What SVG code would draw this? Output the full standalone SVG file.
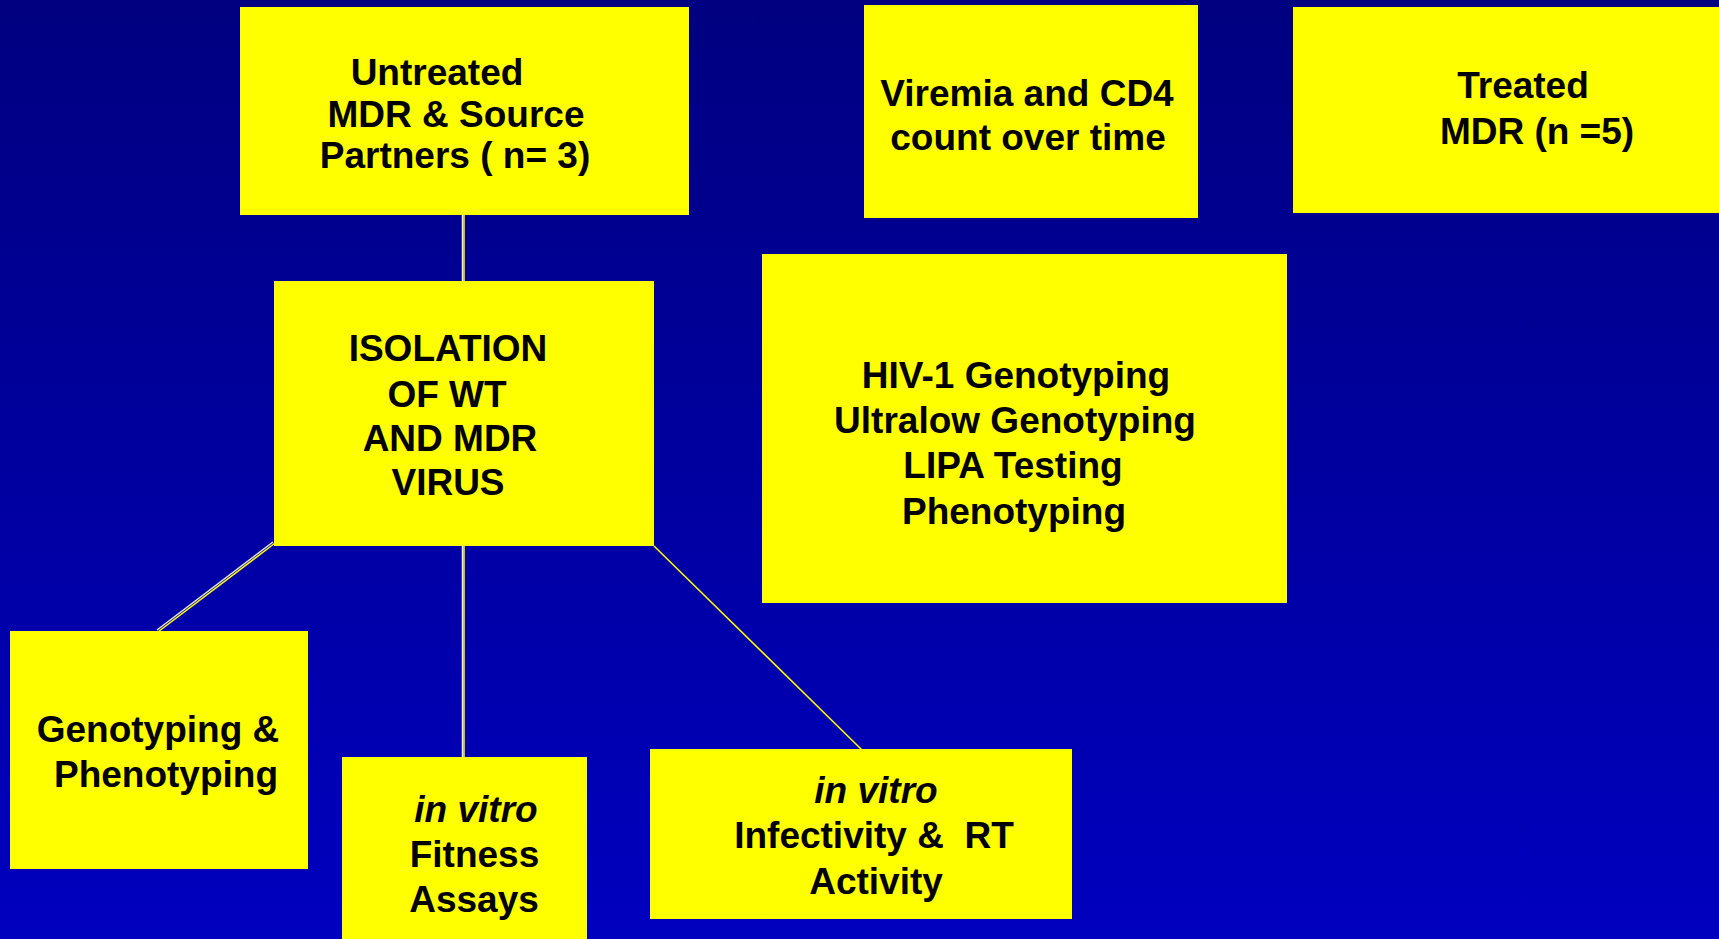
<svg xmlns="http://www.w3.org/2000/svg" width="1719" height="939" viewBox="0 0 1719 939">
<defs>
<linearGradient id="bg" x1="0" y1="0" x2="0" y2="1">
<stop offset="0" stop-color="#000080"/>
<stop offset="1" stop-color="#0000BF"/>
</linearGradient>
<style>
.box{fill:#FFFF00;}
.t{font-family:"Liberation Sans",Arial,sans-serif;font-weight:bold;font-size:37px;fill:#000;text-anchor:middle;}
.i{font-style:italic;}
.w{stroke:#E8E8F0;stroke-width:1.5;fill:none;}
.y{stroke:#FFFF00;stroke-width:1.5;fill:none;}
</style>
</defs>
<rect x="0" y="0" width="1719" height="939" fill="url(#bg)"/>
<g id="connectors">
<line class="w" x1="462.5" y1="215" x2="462.5" y2="281"/>
<line class="y" x1="464" y1="215" x2="464" y2="281"/>
<line class="w" x1="273" y1="542" x2="157" y2="630"/>
<line class="y" x1="274.5" y1="543.5" x2="158.5" y2="631.5"/>
<line class="w" x1="462.5" y1="546" x2="462.5" y2="757"/>
<line class="y" x1="464" y1="546" x2="464" y2="757"/>
<line class="y" x1="654" y1="546" x2="862" y2="750"/>
</g>
<g id="untreated">
<rect class="box" x="240" y="7" width="449" height="208"/>
<text class="t" x="437" y="85">Untreated</text>
<text class="t" x="456" y="127">MDR &amp; Source</text>
<text class="t" x="455" y="168">Partners ( n= 3)</text>
</g>
<g id="viremia">
<rect class="box" x="864" y="5" width="334" height="213"/>
<text class="t" x="1027" y="106">Viremia and CD4</text>
<text class="t" x="1028" y="150">count over time</text>
</g>
<g id="treated">
<rect class="box" x="1293" y="7" width="426" height="206"/>
<text class="t" x="1523" y="98">Treated</text>
<text class="t" x="1537" y="144">MDR (n =5)</text>
</g>
<g id="isolation">
<rect class="box" x="274" y="281" width="380" height="265"/>
<text class="t" x="448" y="361">ISOLATION</text>
<text class="t" x="447" y="407">OF WT</text>
<text class="t" x="450" y="451">AND MDR</text>
<text class="t" x="448" y="495">VIRUS</text>
</g>
<g id="hiv-tests">
<rect class="box" x="762" y="254" width="525" height="349"/>
<text class="t" x="1016" y="388">HIV-1 Genotyping</text>
<text class="t" x="1015" y="433">Ultralow Genotyping</text>
<text class="t" x="1013" y="478">LIPA Testing</text>
<text class="t" x="1014" y="524">Phenotyping</text>
</g>
<g id="genotyping">
<rect class="box" x="10" y="631" width="298" height="238"/>
<text class="t" x="158" y="742">Genotyping &amp;</text>
<text class="t" x="166" y="787">Phenotyping</text>
</g>
<g id="fitness">
<rect class="box" x="342" y="757" width="245" height="182"/>
<text class="t i" x="476" y="822">in vitro</text>
<text class="t" x="474.5" y="867">Fitness</text>
<text class="t" x="474" y="912">Assays</text>
</g>
<g id="infectivity">
<rect class="box" x="650" y="749" width="422" height="170"/>
<text class="t i" x="876" y="803">in vitro</text>
<text class="t" x="874" y="848" xml:space="preserve">Infectivity &amp;  RT</text>
<text class="t" x="876" y="894">Activity</text>
</g>
</svg>
